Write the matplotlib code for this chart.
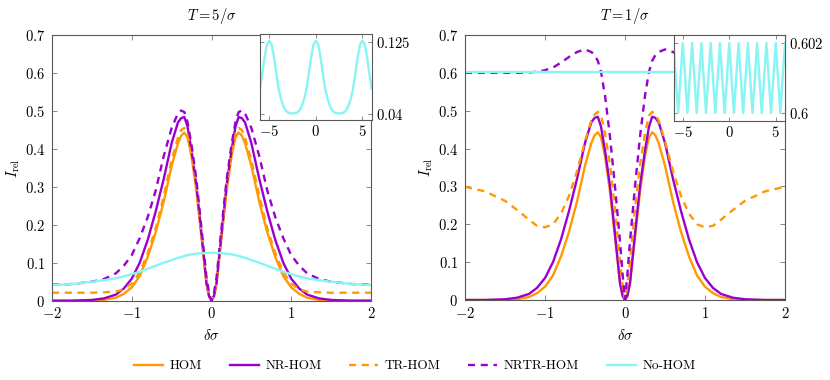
import matplotlib
matplotlib.use("Agg")
import matplotlib.pyplot as plt

plt.rcParams['font.family'] = 'serif'
plt.rcParams['font.serif'] = ['cmr10']
plt.rcParams['mathtext.fontset'] = 'cm'
plt.rcParams['axes.unicode_minus'] = False

# main panels (delta sigma)
x = [-2, -1.75, -1.5, -1.35, -1.2, -1.1, -1.0, -0.9, -0.8, -0.7, -0.6, -0.5, -0.42, -0.38,
     -0.34, -0.3, -0.25, -0.19, -0.125, -0.0625, -0.03, 0, 0.03, 0.0625, 0.125, 0.19, 0.25,
     0.3, 0.34, 0.38, 0.42, 0.5, 0.6, 0.7, 0.8, 0.9, 1.0, 1.1, 1.2, 1.35, 1.5, 1.75, 2]

hom = [0, 0, 0, 0.002, 0.008, 0.018, 0.035, 0.065, 0.115, 0.18, 0.26, 0.355, 0.415, 0.435,
       0.443, 0.43, 0.38, 0.29, 0.165, 0.045, 0.01, 0, 0.01, 0.045, 0.165, 0.29, 0.38,
       0.43, 0.443, 0.435, 0.415, 0.355, 0.26, 0.18, 0.115, 0.065, 0.035, 0.018, 0.008, 0.002,
       0, 0, 0]

nr_hom = [0, 0, 0.002, 0.006, 0.016, 0.032, 0.058, 0.1, 0.16, 0.235, 0.32, 0.415, 0.47, 0.481,
          0.484, 0.458, 0.395, 0.305, 0.175, 0.045, 0.012, 0, 0.012, 0.045, 0.175, 0.305, 0.395,
          0.458, 0.484, 0.481, 0.47, 0.415, 0.32, 0.235, 0.16, 0.1, 0.058, 0.032, 0.016, 0.006,
          0.002, 0, 0]

# T = 5/sigma
tr_hom_5 = [0.021, 0.021, 0.021, 0.022, 0.024, 0.03, 0.045, 0.075, 0.125, 0.19, 0.275, 0.37,
            0.43, 0.45, 0.455, 0.44, 0.39, 0.3, 0.175, 0.05, 0.012, 0, 0.012, 0.05, 0.175, 0.3,
            0.39, 0.44, 0.455, 0.45, 0.43, 0.37, 0.275, 0.19, 0.125, 0.075, 0.045, 0.03, 0.024,
            0.022, 0.021, 0.021, 0.021]
nrtr_hom_5 = [0.042, 0.044, 0.05, 0.057, 0.072, 0.092, 0.12, 0.165, 0.22, 0.29, 0.38, 0.455,
              0.494, 0.501, 0.497, 0.47, 0.41, 0.32, 0.19, 0.06, 0.02, 0, 0.02, 0.06, 0.19, 0.32,
              0.41, 0.47, 0.497, 0.501, 0.494, 0.455, 0.38, 0.29, 0.22, 0.165, 0.12, 0.092,
              0.072, 0.057, 0.05, 0.044, 0.042]
no_hom_5 = [0.041, 0.044, 0.05, 0.054, 0.059, 0.064, 0.07, 0.076, 0.084, 0.092, 0.1, 0.107,
            0.113, 0.115, 0.118, 0.12, 0.122, 0.124, 0.125, 0.126, 0.126, 0.126, 0.126, 0.126,
            0.125, 0.124, 0.122, 0.12, 0.118, 0.115, 0.113, 0.107, 0.1, 0.092, 0.084, 0.076,
            0.07, 0.064, 0.059, 0.054, 0.05, 0.044, 0.041]

# T = 1/sigma
tr_hom_1 = [0.299, 0.287, 0.262, 0.238, 0.212, 0.196, 0.192, 0.2, 0.228, 0.275, 0.34, 0.42,
            0.475, 0.49, 0.497, 0.487, 0.44, 0.36, 0.24, 0.1, 0.04, 0, 0.04, 0.1, 0.24, 0.36,
            0.44, 0.487, 0.497, 0.49, 0.475, 0.42, 0.34, 0.275, 0.228, 0.2, 0.192, 0.196, 0.212,
            0.238, 0.262, 0.287, 0.299]
nrtr_hom_1 = [0.6, 0.6, 0.6, 0.6, 0.601, 0.603, 0.607, 0.614, 0.627, 0.642, 0.655, 0.662,
              0.655, 0.647, 0.632, 0.603, 0.54, 0.436, 0.3, 0.155, 0.068, 0, 0.068, 0.155, 0.3,
              0.436, 0.54, 0.603, 0.632, 0.647, 0.655, 0.662, 0.655, 0.642, 0.627, 0.614, 0.607,
              0.603, 0.601, 0.6, 0.6, 0.6, 0.6]
x_flat = [-2, 0, 2]
no_hom_1 = [0.601, 0.601, 0.601]

# insets (No-HOM over a wider range)
x_in5 = [-6, -5.75, -5.5, -5.25, -5, -4.75, -4.5, -4.25, -4, -3.75, -3.5, -3.25, -3, -2.75,
         -2.5, -2.25, -2, -1.75, -1.5, -1.25, -1, -0.75, -0.5, -0.25, 0, 0.25, 0.5, 0.75, 1,
         1.25, 1.5, 1.75, 2, 2.25, 2.5, 2.75, 3, 3.25, 3.5, 3.75, 4, 4.25, 4.5, 4.75, 5, 5.25,
         5.5, 5.75, 6]
in5 = [0.07, 0.088, 0.107, 0.122, 0.126, 0.122, 0.107, 0.088, 0.07, 0.058, 0.05, 0.0445,
       0.042, 0.0412, 0.041, 0.0412, 0.042, 0.0445, 0.05, 0.058, 0.07, 0.088, 0.107, 0.122,
       0.126, 0.122, 0.107, 0.088, 0.07, 0.058, 0.05, 0.0445, 0.042, 0.0412, 0.041, 0.0412,
       0.042, 0.0445, 0.05, 0.058, 0.07, 0.088, 0.107, 0.122, 0.126, 0.122, 0.107, 0.088, 0.07]
x_in1 = [-6, -5.75, -5.5, -5.25, -5, -4.75, -4.5, -4.25, -4, -3.75, -3.5, -3.25, -3, -2.75,
         -2.5, -2.25, -2, -1.75, -1.5, -1.25, -1, -0.75, -0.5, -0.25, 0, 0.25, 0.5, 0.75, 1,
         1.25, 1.5, 1.75, 2, 2.25, 2.5, 2.75, 3, 3.25, 3.5, 3.75, 4, 4.25, 4.5, 4.75, 5, 5.25,
         5.5, 5.75, 6]
in1 = [0.602, 0.601, 0.6, 0.601, 0.602, 0.601, 0.6, 0.601, 0.602, 0.601, 0.6, 0.601, 0.602,
       0.601, 0.6, 0.601, 0.602, 0.601, 0.6, 0.601, 0.602, 0.601, 0.6, 0.601, 0.602, 0.601,
       0.6, 0.601, 0.602, 0.601, 0.6, 0.601, 0.602, 0.601, 0.6, 0.601, 0.602, 0.601, 0.6,
       0.601, 0.602, 0.601, 0.6, 0.601, 0.602, 0.601, 0.6, 0.601, 0.602]

xticks = [-2, -1, 0, 1, 2]
xticklabels = ['$-2$', '$-1$', '$0$', '$1$', '$2$']
yticks = [0, 0.1, 0.2, 0.3, 0.4, 0.5, 0.6, 0.7]
yticklabels = ['$0$', '$0.1$', '$0.2$', '$0.3$', '$0.4$', '$0.5$', '$0.6$', '$0.7$']

orange = '#ff9900'
purple = '#9a00d0'
cyan = '#88f4f4'
lw = 1.7
dash = (3, 2.4)
fs = 10.5

fig = plt.figure(figsize=(8.3, 3.8), dpi=100)
ax1 = fig.add_axes([52/830, 79.3/380, 319/830, 265.7/380])
ax2 = fig.add_axes([465/830, 80/380, 320/830, 265/380])


def style(ax):
    ax.set_xlim(-2, 2)
    ax.set_ylim(0, 0.7)
    ax.set_xticks(xticks)
    ax.set_xticklabels(xticklabels)
    ax.set_yticks(yticks)
    ax.set_yticklabels(yticklabels)
    ax.tick_params(direction='in', top=True, right=True, length=3.5, width=0.6,
                   color='0.45', labelsize=fs)
    ax.tick_params(axis='x', pad=4)
    ax.tick_params(axis='y', pad=5)
    for s in ax.spines.values():
        s.set_color('0.35')
        s.set_linewidth(0.8)
    ax.set_xlabel(r'$\delta\sigma$', fontsize=fs, labelpad=5)
    ax.set_ylabel(r'$I_{\rm rel}$', fontsize=fs, labelpad=2)


for ax, tr, nrtr, xn, nh, title in [(ax1, tr_hom_5, nrtr_hom_5, x, no_hom_5, r'$T = 5/\sigma$'),
                                    (ax2, tr_hom_1, nrtr_hom_1, x_flat, no_hom_1, r'$T = 1/\sigma$')]:
    ax.plot(x, hom, color=orange, lw=lw, label='HOM')
    ax.plot(x, nr_hom, color=purple, lw=lw, label='NR-HOM')
    ax.plot(x, tr, color=orange, lw=lw, ls=(0, dash), label='TR-HOM')
    ax.plot(x, nrtr, color=purple, lw=lw, ls=(0, dash), label='NRTR-HOM')
    ax.plot(xn, nh, color=cyan, lw=lw, label='No-HOM')
    style(ax)
    ax.set_title(title, fontsize=fs, pad=11)

# insets
in_a = fig.add_axes([260/830, 260/380, 111.7/830, 86/380])
in_b = fig.add_axes([673.5/830, 259.3/380, 111.5/830, 85.7/380])
for ax, xs, ys, ylim, yt, ytl in [(in_a, x_in5, in5, (0.0333, 0.134), [0.04, 0.125], ['$0.04$', '$0.125$']),
                                  (in_b, x_in1, in1, (0.59978, 0.60223), [0.6, 0.602], ['$0.6$', '$0.602$'])]:
    ax.plot(xs, ys, color=cyan, lw=lw)
    ax.set_facecolor('white')
    ax.set_xlim(-6, 6)
    ax.set_ylim(*ylim)
    ax.set_xticks([-5, 0, 5])
    ax.set_xticklabels(['$-5$', '$0$', '$5$'])
    ax.set_yticks(yt)
    ax.set_yticklabels(ytl)
    ax.tick_params(direction='in', top=True, right=True, left=True, labelleft=False,
                   labelright=True, length=3, width=0.6, color='0.45', labelsize=fs, pad=3)
    for s in ax.spines.values():
        s.set_color('0.35')
        s.set_linewidth(0.8)

handles, labels = ax1.get_legend_handles_labels()
fig.legend(handles, labels, loc='center', bbox_to_anchor=(0.5, 1 - 366/380), ncol=5,
           frameon=False, fontsize=9.5, handlelength=2.2, columnspacing=2.1, handletextpad=0.5)

fig.savefig('out.png', dpi=100)
